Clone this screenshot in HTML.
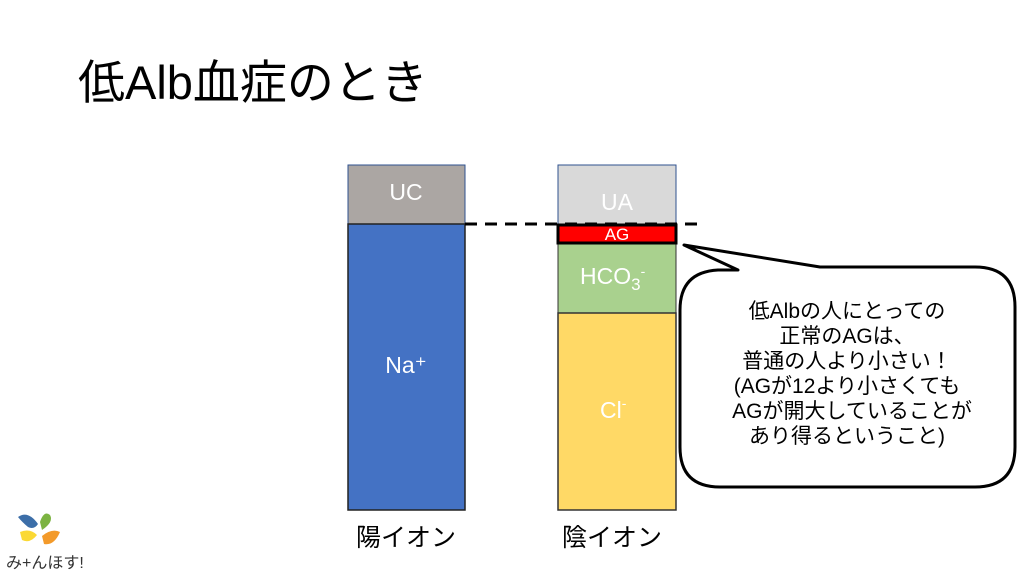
<!DOCTYPE html>
<html><head><meta charset="utf-8"><style>
body{margin:0;width:1024px;height:576px;background:#fff;overflow:hidden;font-family:"Liberation Sans","Noto Sans CJK JP",sans-serif}
</style></head><body>
<svg width="1024" height="576" xmlns="http://www.w3.org/2000/svg" style="font-family:'Liberation Sans','Noto Sans CJK JP',sans-serif">
<text x="78" y="99" font-size="47" fill="#000">低Alb血症のとき</text>
<rect x="348" y="165" width="117" height="59" fill="#aba6a3" stroke="#2f528f" stroke-width="1"/>
<rect x="348" y="224" width="117" height="286" fill="#4472c4" stroke="#222" stroke-width="1.5"/>
<text x="406" y="200" font-size="23" fill="#fff" text-anchor="middle">UC</text>
<text x="406" y="373" font-size="23" fill="#fff" text-anchor="middle">Na⁺</text>
<rect x="558" y="165" width="118" height="59" fill="#d9d9d9" stroke="#2f528f" stroke-width="1"/>
<rect x="558" y="243" width="118" height="70" fill="#a9d18e" stroke="#333" stroke-width="1"/>
<rect x="558" y="313" width="118" height="197" fill="#ffd966" stroke="#333" stroke-width="1.5"/>
<rect x="558" y="225" width="118" height="18" fill="#ff0000" stroke="#000" stroke-width="3"/>
<text x="617" y="210" font-size="23" fill="#fff" text-anchor="middle">UA</text>
<text x="617" y="240" font-size="17" fill="#fff" text-anchor="middle">AG</text>
<text x="580" y="284" font-size="23" fill="#fff">HCO<tspan font-size="17" dy="6">3</tspan><tspan font-size="14" dy="-14">-</tspan></text>
<text x="600" y="418" font-size="23" fill="#fff">Cl<tspan font-size="14" dy="-10">-</tspan></text>
<line x1="465" y1="224" x2="700" y2="224" stroke="#000" stroke-width="3" stroke-dasharray="12,8"/>
<path d="M738,270 L684,245 L820,267 L975,267 Q1015,267 1015,307 L1015,447 Q1015,487 975,487 L720,487 Q680,487 680,447 L680,310 Q680,272 718,270 Z" fill="#fff" stroke="#000" stroke-width="3" stroke-linejoin="round"/>
<g font-size="21" fill="#000" text-anchor="middle">
<text x="847" y="318">低Albの人にとっての</text>
<text x="847" y="343">正常のAGは、</text>
<text x="847" y="368">普通の人より小さい！</text>
<text x="847" y="393">(AGが12より小さくても</text>
<text x="852" y="418">AGが開大していることが</text>
<text x="847" y="443">あり得るということ)</text>
</g>
<text x="406" y="546" font-size="25" fill="#000" text-anchor="middle">陽イオン</text>
<text x="612" y="546" font-size="25" fill="#000" text-anchor="middle">陰イオン</text>
<g>
<path d="M18,517 Q28,510 38,524 Q34,530 28,527 Q22,522 18,517Z" fill="#3c6ea8"/>
<path d="M40,522 Q44,510 50,515 Q54,522 42,530Z" fill="#7cb342"/>
<path d="M20,532 Q30,528 37,535 Q30,544 22,540Z" fill="#fbd934"/>
<path d="M42,536 Q52,528 60,532 Q54,546 44,544Z" fill="#f39a2a"/>
<text x="6" y="568" font-size="16" fill="#333">み+んほす!</text>
</g>
</svg>
</body></html>
